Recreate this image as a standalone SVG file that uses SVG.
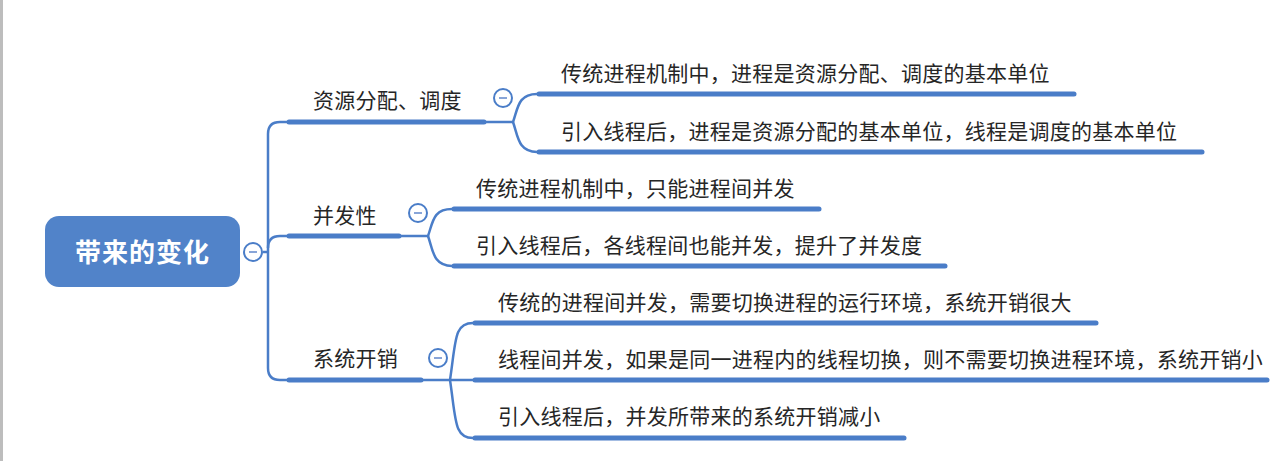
<svg xmlns="http://www.w3.org/2000/svg" width="1280" height="461" viewBox="0 0 1280 461">
<style>
.t{font-family:"Noto Sans CJK SC","Noto Sans",sans-serif;font-size:21px;fill:#262626;letter-spacing:0.25px}
.ul{stroke:#4a7dc8;stroke-width:5;stroke-linecap:round;fill:none}
.cn{stroke:#4a7dc8;stroke-width:2.5;fill:none}
.cc{stroke:#4a7dc8;stroke-width:2;fill:#fff}
.mn{stroke:#6b8fcf;stroke-width:1.6}
</style>
<rect x="0" y="0" width="1280" height="461" fill="#fff"/>
<rect x="0" y="0" width="3" height="461" fill="#bdbdbd"/>
<g id="connectors">
<path class="cn" d="M263 252 H268"/>
<path class="cn" d="M287 122 H280 Q268 122 268 134 V368 Q268 380 280 380 H287"/>
<path class="cn" d="M268 248 Q268 236 280 236 H287"/>
<path class="cn" d="M485 122 H513 C518 108 518 94 537 94"/>
<path class="cn" d="M513 122 C518 136 518 152 537 152"/>
<path class="cn" d="M400 236 H428 C433 222 433 209 452 209"/>
<path class="cn" d="M428 236 C433 250 433 266 452 266"/>
<path class="cn" d="M422 380 H473"/>
<path class="cn" d="M450 380 C456 340 454 323 473 323"/>
<path class="cn" d="M450 380 C456 420 454 438 473 438"/>
</g>
<g id="root">
<rect x="45" y="216" width="195" height="71" rx="14" fill="#5183c9"/>
<text x="142.5" y="262" text-anchor="middle" style="font-family:'Noto Sans CJK SC','Noto Sans',sans-serif;font-size:26px;font-weight:bold;fill:#fff;letter-spacing:1px">带来的变化</text>
<circle class="cc" cx="253" cy="252" r="9"/>
<line class="mn" x1="249" y1="252" x2="257" y2="252"/>
</g>
<g id="b1">
<text class="t" x="313" y="108">资源分配、调度</text>
<line class="ul" x1="289" y1="122" x2="484" y2="122"/>
<circle class="cc" cx="503" cy="98" r="9"/>
<line class="mn" x1="499" y1="98" x2="507" y2="98"/>
</g>
<g id="b1c1">
<text class="t" x="561" y="81">传统进程机制中，进程是资源分配、调度的基本单位</text>
<line class="ul" x1="539" y1="94" x2="1074" y2="94"/>
</g>
<g id="b1c2">
<text class="t" x="561" y="139">引入线程后，进程是资源分配的基本单位，线程是调度的基本单位</text>
<line class="ul" x1="539" y1="152" x2="1202" y2="152"/>
</g>
<g id="b2">
<text class="t" x="313" y="223">并发性</text>
<line class="ul" x1="289" y1="236" x2="399" y2="236"/>
<circle class="cc" cx="418" cy="213" r="9"/>
<line class="mn" x1="414" y1="213" x2="422" y2="213"/>
</g>
<g id="b2c1">
<text class="t" x="476" y="196">传统进程机制中，只能进程间并发</text>
<line class="ul" x1="454" y1="209" x2="819" y2="209"/>
</g>
<g id="b2c2">
<text class="t" x="476" y="253">引入线程后，各线程间也能并发，提升了并发度</text>
<line class="ul" x1="454" y1="266" x2="945" y2="266"/>
</g>
<g id="b3">
<text class="t" x="313" y="366">系统开销</text>
<line class="ul" x1="289" y1="380" x2="421" y2="380"/>
<circle class="cc" cx="438" cy="358" r="9"/>
<line class="mn" x1="434" y1="358" x2="442" y2="358"/>
</g>
<g id="b3c1">
<text class="t" x="498" y="310">传统的进程间并发，需要切换进程的运行环境，系统开销很大</text>
<line class="ul" x1="475" y1="323" x2="1096" y2="323"/>
</g>
<g id="b3c2">
<text class="t" x="498" y="367">线程间并发，如果是同一进程内的线程切换，则不需要切换进程环境，系统开销小</text>
<line class="ul" x1="475" y1="380" x2="1267" y2="380"/>
</g>
<g id="b3c3">
<text class="t" x="498" y="424">引入线程后，并发所带来的系统开销减小</text>
<line class="ul" x1="475" y1="438" x2="904" y2="438"/>
</g>
</svg>
